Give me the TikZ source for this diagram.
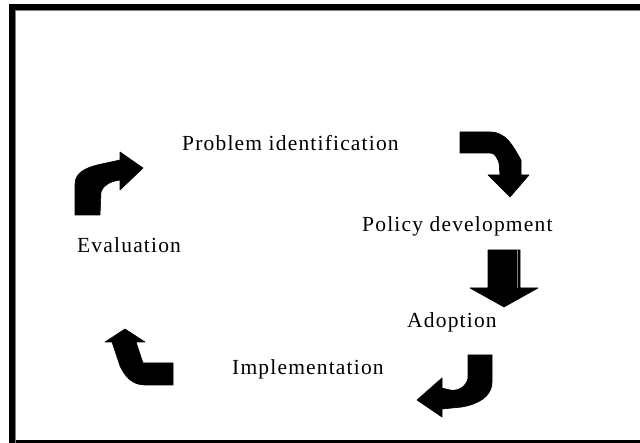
\documentclass[tikz,border=0pt]{standalone}
\usepackage{fontspec}
\setmainfont{Liberation Serif}
\newfontfamily\lblfont[LetterSpace=5.5]{Liberation Serif}
\begin{document}
\begin{tikzpicture}[x=1pt,y=-1pt,
  lbl/.style={anchor=base west,inner sep=0pt,font=\lblfont\fontsize{21.5}{24}\selectfont},
  blk/.style={fill=black,draw=black,line width=0.6pt,line join=round}]
\useasboundingbox (0,0) rectangle (640,443);
\begin{scope}
\clip (0,0) rectangle (640,443);
\fill[white] (0,0) rectangle (640,443);
\draw[line width=6pt] (11.5,7) rectangle (700,443.5);
\draw[gray,line width=0.8pt] (15.5,10.5) -- (640,10.5);
\draw[gray,line width=0.8pt] (15.5,10.5) -- (15.5,443);
\end{scope}
% labels
\node[lbl] (prob) at (182,151) {Problem identification};
\node[lbl] (pol) at (362,232) {Policy development};
\node[lbl] (adop) at (407,328) {Adoption};
\node[lbl] (impl) at (232,375) {Implementation};
\node[lbl] (eval) at (77,253) {Evaluation};
% arrow: evaluation -> problem identification
\path[blk] (75,215) -- (75,184) to[out=90,in=195] (97,165) -- (120,160) -- (120,152) -- (143,168) -- (120,190) -- (120,180)
  to[out=190,in=70] (101,192) -- (100,215) -- cycle;
% arrow: problem identification -> policy development
\path[blk] (460,132) -- (490,132) to[out=0,in=120] (521,160) -- (521,175) -- (529,175) -- (510,197) -- (488,175) -- (500,175)
  -- (499,163) to[out=110,in=0] (490,153) -- (460,153) -- cycle;
% arrow: policy development -> adoption
\path[blk] (488,250) -- (520,250) -- (520,288) -- (538,288) -- (504,307) -- (470,288) -- (488,288) -- cycle;
\draw[gray,line width=0.8pt] (517,250) -- (517,288);
% arrow: adoption -> implementation
\path[blk] (468,355) -- (492,355) -- (492,382) to[out=-90,in=10] (462,407) -- (442,409) -- (442,417) -- (417,400) -- (442,378)
  -- (442,388) -- (450,390) to[out=-10,in=-100] (468,378) -- cycle;
% arrow: implementation -> evaluation
\path[blk] (173,363) -- (143,363) -- (136,342) -- (145,342) -- (125,329) -- (105,342) -- (112,342) -- (120,366)
  to[out=-65,in=180] (145,385) -- (173,385) -- cycle;
\end{tikzpicture}
\end{document}
